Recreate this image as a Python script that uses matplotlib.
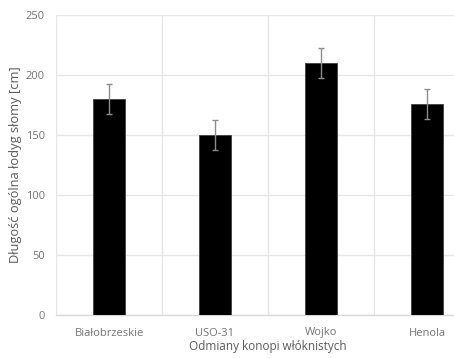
import numpy as np
import matplotlib
matplotlib.use("Agg")
import matplotlib.pyplot as plt

# fibre hemp varieties and stem length (mean, error)
varieties = ["Białobrzeskie", "USO-31", "Wojko", "Henola"]
lengths = [180, 150, 210, 176]
errors = [12.5, 12.5, 12.5, 12.5]

plt.rcParams["font.family"] = ["Open Sans", "DejaVu Sans"]

fig = plt.figure(figsize=(4.54, 3.58), dpi=100)
ax = fig.add_axes([56 / 454, 43 / 358, 424 / 454, 300 / 358])

x = np.arange(len(varieties))
ax.bar(x, lengths, width=0.31, color="black", edgecolor="#404040", linewidth=0.6, zorder=3)
ax.errorbar(x, lengths, yerr=errors, fmt="none", ecolor="#8c8c8c", elinewidth=1.0,
            capsize=2.5, capthick=1.0, zorder=4)

ax.set_xlim(-0.5, len(varieties) - 0.5)
ax.set_ylim(0, 250)
ax.set_yticks(range(0, 251, 50))
ax.set_xticks(x)
ax.set_xticklabels(varieties)

# category separators + horizontal grid
ax.set_xticks(np.arange(-0.5, len(varieties), 1), minor=True)
ax.grid(axis="y", which="major", color="#e6e6e6", linewidth=1.0, zorder=0)
ax.grid(axis="x", which="minor", color="#e6e6e6", linewidth=1.0, zorder=0)

for s in ["top", "right", "left"]:
    ax.spines[s].set_visible(False)
ax.spines["bottom"].set_color("#d9d9d9")
ax.spines["bottom"].set_linewidth(1.0)

ax.tick_params(axis="both", which="both", length=0, colors="#737373", labelsize=8)
ax.tick_params(axis="x", pad=9)
ax.tick_params(axis="y", pad=8)

ax.set_xlabel("Odmiany konopi włóknistych", fontsize=8.5, color="#595959", labelpad=1)
ax.set_ylabel("Długość ogólna łodyg słomy [cm]", fontsize=9.3, color="#595959", labelpad=3)

fig.savefig("out.png", dpi=100)
